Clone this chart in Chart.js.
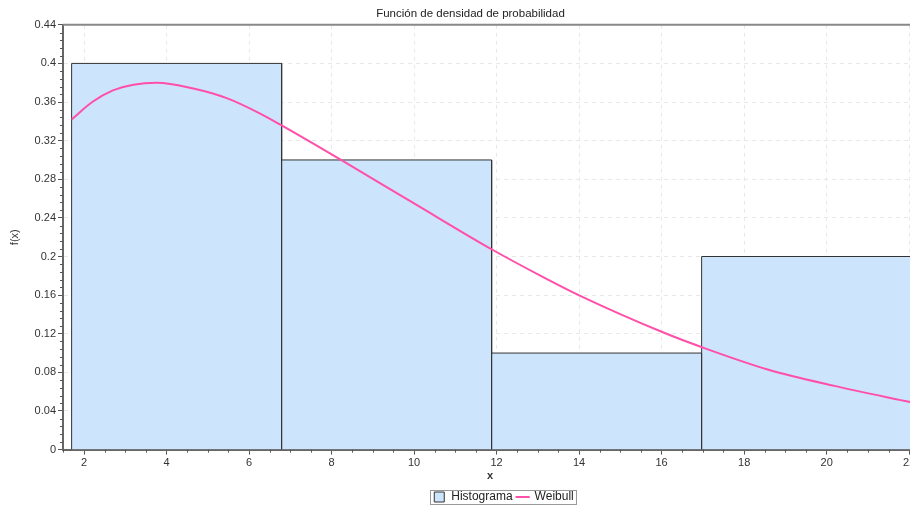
<!DOCTYPE html>
<html>
<head>
<meta charset="utf-8">
<script src="https://cdn.jsdelivr.net/npm/chart.js@4.4.1/dist/chart.umd.min.js"></script>
<style>
  html, body { margin: 0; padding: 0; overflow: hidden; background: #fff; }
  #wrap { width: 940px; height: 507px; }
</style>
</head>
<body>
<div id="wrap"><canvas id="chart"></canvas></div>
<script>
// Histogram bins (edges) and heights
const binEdges = [1.70, 6.79, 11.88, 16.97, 22.06];
const binHeights = [0.4, 0.3, 0.1, 0.2];

// Weibull curve
const weibullX = [1.70, 2.2, 2.7, 3.2, 3.76, 4.65, 5.46, 6.27, 6.78, 8.23, 10.0, 11.9, 13.07, 14.04, 16.06, 16.98, 18.57, 20.19, 22.05];
const weibullY = [0.342, 0.360, 0.372, 0.378, 0.380, 0.374, 0.364, 0.348, 0.336, 0.300, 0.255, 0.207, 0.180, 0.159, 0.121, 0.106, 0.083, 0.066, 0.049];

const FONT = 'Liberation Sans';
const AXIS_COLOR = '#666';

// outline of the histogram: every bin goes up from 0 and back down to 0
const histPoints = [];
binHeights.forEach((h, i) => {
  histPoints.push({ x: binEdges[i], y: 0 }, { x: binEdges[i], y: h },
                  { x: binEdges[i + 1], y: h }, { x: binEdges[i + 1], y: 0 });
});
const curvePoints = weibullX.map((x, i) => ({ x, y: weibullY[i] }));

// small ticks between the labelled ones, plus the frame line on top
const minorTicks = {
  id: 'minorTicks',
  afterDraw(chart) {
    const { ctx, chartArea, scales: { x, y } } = chart;
    ctx.save();
    ctx.strokeStyle = '#555';
    ctx.lineWidth = 1;
    ctx.beginPath();
    for (let k = 0; k <= 55; k++) {
      if (k % 5 === 0) continue;
      const py = Math.round(y.getPixelForValue(k * 0.008)) + 0.5;
      ctx.moveTo(chartArea.left - 3, py);
      ctx.lineTo(chartArea.left, py);
    }
    for (let k = Math.ceil(x.min * 2); k <= Math.floor(x.max * 2); k++) {
      if (k % 4 === 0) continue;
      const px = Math.round(x.getPixelForValue(k / 2)) + 0.5;
      ctx.moveTo(px, chartArea.bottom);
      ctx.lineTo(px, chartArea.bottom + 3);
    }
    ctx.stroke();
    ctx.strokeStyle = '#888';
    ctx.lineWidth = 2;
    ctx.beginPath();
    ctx.moveTo(chartArea.left, chartArea.top);
    ctx.lineTo(chartArea.right, chartArea.top);
    ctx.stroke();
    ctx.restore();
  }
};

// title and legend sit a bit right of centre; legend has a thin frame
const legendFrame = {
  id: 'legendFrame',
  afterLayout(chart) {
    chart.legend.left += 45;
    chart.legend.right += 45;
    chart.legend.top += 6;
    chart.legend.bottom += 6;
    chart.titleBlock.left += 12;
    chart.titleBlock.right += 12;
  },
  afterDraw(chart) {
    const boxes = chart.legend.legendHitBoxes;
    if (!boxes || !boxes.length) return;
    const left = Math.min(...boxes.map(b => b.left)) - 3;
    const right = Math.max(...boxes.map(b => b.left + b.width)) + 3;
    const top = Math.min(...boxes.map(b => b.top)) - 1;
    const bottom = Math.max(...boxes.map(b => b.top + b.height)) + 1;
    const ctx = chart.ctx;
    ctx.save();
    ctx.strokeStyle = '#999';
    ctx.lineWidth = 1;
    ctx.strokeRect(Math.round(left) + 0.5, Math.round(top) + 0.5, Math.round(right - left), Math.round(bottom - top));
    ctx.restore();
  }
};

new Chart(document.getElementById('chart'), {
  type: 'line',
  data: {
    datasets: [
      {
        label: 'Histograma',
        data: histPoints,
        backgroundColor: '#cce5fd',
        borderColor: '#333',
        borderWidth: 1,
        fill: 'origin',
        tension: 0,
        pointRadius: 0,
        pointStyle: 'rect',
        order: 2
      },
      {
        label: 'Weibull',
        data: curvePoints,
        borderColor: '#ff4fa8',
        backgroundColor: '#ff4fa8',
        borderWidth: 2,
        pointRadius: 0,
        fill: false,
        cubicInterpolationMode: 'monotone',
        pointStyle: 'line',
        order: 1
      }
    ]
  },
  options: {
    responsive: true,
    maintainAspectRatio: false,
    animation: false,
    layout: { padding: { right: 23, left: 0, top: 0, bottom: 0 } },
    scales: {
      x: {
        type: 'linear',
        min: 1.491,
        max: 22.19,
        offset: false,
        ticks: {
          stepSize: 2,
          includeBounds: false,
          padding: 2,
          color: '#333',
          font: { family: FONT, size: 11 },
          maxRotation: 0
        },
        grid: { color: '#e8e8e8', tickColor: '#555', tickLength: 5, offset: false },
        border: { color: AXIS_COLOR, width: 2, dash: [4, 4] },
        title: {
          display: true,
          text: 'x',
          color: '#333',
          font: { family: FONT, size: 11, weight: 'bold' },
          padding: { top: 0, bottom: -2 }
        },
        afterFit: scale => { scale.height -= 2; }
      },
      y: {
        min: 0,
        max: 0.44,
        ticks: {
          stepSize: 0.04,
          padding: 2,
          color: '#333',
          font: { family: FONT, size: 11 },
          callback: v => +v.toFixed(2)
        },
        grid: { color: '#e8e8e8', tickColor: '#555', tickLength: 5 },
        border: { color: AXIS_COLOR, width: 2, dash: [4, 4] },
        title: {
          display: true,
          text: 'f(x)',
          color: '#333',
          font: { family: FONT, size: 11 },
          padding: { top: 8, bottom: 0 }
        },
        afterFit: scale => { scale.width = 63; }
      }
    },
    plugins: {
      title: {
        display: true,
        text: 'Función de densidad de probabilidad',
        color: '#222',
        font: { family: FONT, size: 11.5, weight: 'normal' },
        padding: { top: 7, bottom: 4 }
      },
      legend: {
        position: 'bottom',
        labels: {
          usePointStyle: true,
          boxHeight: 10,
          padding: 4,
          color: '#222',
          font: { family: FONT, size: 12 },
          sort: (a, b) => a.datasetIndex - b.datasetIndex
        }
      },
      tooltip: { enabled: false }
    }
  },
  plugins: [minorTicks, legendFrame]
});
</script>
</body>
</html>
